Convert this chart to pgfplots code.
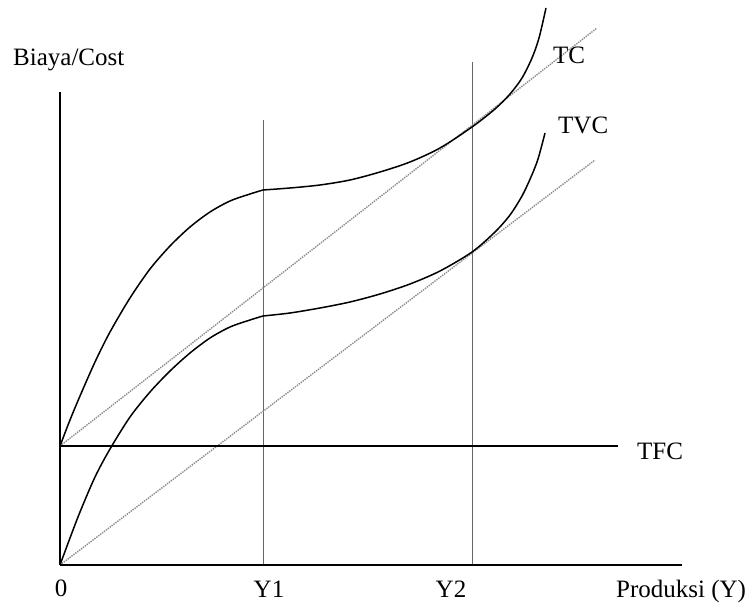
\documentclass[border=0pt]{standalone}
\usepackage{pgfplots}
\pgfplotsset{compat=1.18}
\usepackage{fontspec}
\setmainfont{Liberation Serif}
\tikzset{lbl/.style={inner sep=0pt, font=\fontsize{25bp}{30bp}\selectfont}}
\begin{document}
\begin{tikzpicture}
\begin{axis}[
  width=752bp, height=604bp, scale only axis,
  xmin=-60, xmax=692, ymin=-39, ymax=565,
  hide axis, clip=false,
]
\addplot[draw=none] coordinates {(-60,-39) (692,565)};
% vertical guides Y1, Y2
\addplot[gray!80!black, line width=1bp] coordinates {(203,0) (203,445)};
\addplot[gray!80!black, line width=1bp] coordinates {(412,0) (412,503)};
% tangent rays
\addplot[gray!90, densely dotted, line width=1.4bp] coordinates {(0,119) (537,537)};
\addplot[gray!90, densely dotted, line width=1.4bp] coordinates {(0,0) (535,405)};
% axes
\addplot[black, line width=1.6bp] coordinates {(0,0) (0,473)};
\addplot[black, line width=1.6bp] coordinates {(0,0) (622,0)};
% TFC
\addplot[black, line width=1.6bp] coordinates {(0,119) (558,119)};
% TC
\addplot[black, line width=1.5bp, smooth] coordinates {
  (0,119) (10,145) (20,169) (35,203) (50,233) (70,267) (90,296) (110,319)
  (130,338) (150,353) (170,364) (190,371) (203,375)};
\addplot[black, line width=1.5bp, smooth] coordinates {
  (203,375) (230,377) (260,380) (290,385) (320,393) (350,403) (380,417)
  (412,438) (435,456) (450,471) (462,487) (472,507) (479,527) (486,557)};
% TVC
\addplot[black, line width=1.5bp, smooth] coordinates {
  (0,0) (10,27) (20,53) (35,88) (50,116) (70,148) (90,173) (110,194)
  (130,212) (150,227) (170,238) (190,245) (203,249)};
\addplot[black, line width=1.5bp, smooth] coordinates {
  (203,249) (230,252) (260,257) (290,263) (320,271) (350,281) (380,294)
  (412,313) (435,333) (450,350) (462,369) (471,388) (478,406) (485,432)};
% labels
\node[lbl, anchor=base west] at (axis cs:-47,499) {Biaya/Cost};
\node[lbl, anchor=base west] at (axis cs:493,501) {TC};
\node[lbl, anchor=base west] at (axis cs:498,431) {TVC};
\node[lbl, anchor=base west] at (axis cs:577,105) {TFC};
\node[lbl, anchor=base west] at (axis cs:556,-32) {Produksi (Y)};
\node[lbl, anchor=base] at (axis cs:1,-31) {0};
\node[lbl, anchor=base] at (axis cs:209,-32) {Y1};
\node[lbl, anchor=base] at (axis cs:391,-32) {Y2};
\end{axis}
\end{tikzpicture}
\end{document}
